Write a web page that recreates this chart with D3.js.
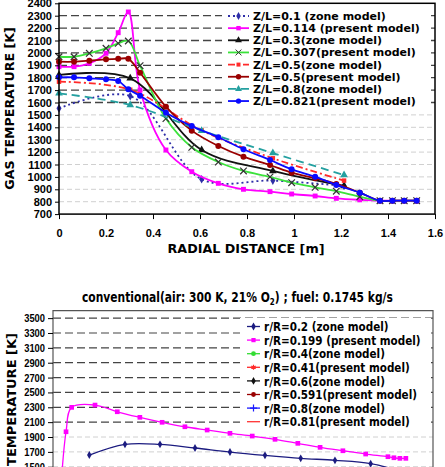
<!DOCTYPE html>
<html>
<head>
<meta charset="utf-8">
<script src="https://cdn.jsdelivr.net/npm/d3@7"></script>
<style>
  body { margin: 0; background: #fff; }
  svg { display: block; font-family: "DejaVu Sans", sans-serif; }
</style>
</head>
<body>
<div class="chart"></div>
<script>
// ---- top chart: radial gas temperature profiles ----
const zoneR = [0, 0.303, 0.607, 0.91, 1.213];
const presentR = [0, 0.064, 0.129, 0.2, 0.252, 0.295, 0.345, 0.455, 0.565, 0.678,
  0.785, 0.898, 0.99, 1.09, 1.18, 1.28, 1.366, 1.419, 1.469, 1.522];

const zl01Zone = [1553, 1652, 981, 970, 928];
const zl03Zone = [1822, 1795, 1217, 1048, 927];
const zl05Zone = [1768, 1703, 1375, 1150, 970];
const zl08Zone = [1674, 1580, 1373, 1192, 1015];

const zl0114Present = [1889, 1889, 1916, 1997, 2163, 2330, 1701, 1217, 1042, 948,
  900, 881, 862, 846, 827, 815, 808, 808, 808, 808];
const zl0307Present = [1969, 1969, 1997, 2037, 2077, 2096, 1897, 1470, 1239, 1120,
  1048, 1000, 953, 916, 885, 840, 808, 808, 808, 808];
const zl05Present = [1929, 1929, 1937, 1948, 1952, 1952, 1840, 1566, 1373, 1249,
  1163, 1096, 1034, 989, 943, 873, 808, 808, 808, 808];
const zl0821Present = [1803, 1803, 1795, 1787, 1773, 1706, 1655, 1518, 1410, 1320,
  1223, 1136, 1061, 1002, 935, 873, 808, 808, 808, 808];

const topXTicks = [0, 0.2, 0.4, 0.6, 0.8, 1, 1.2, 1.4, 1.6];
const topYTicks = d3.range(700, 2401, 100);

// ---- bottom chart: axial profiles (only the upper part is in view) ----
const axial0199 = [0.14, 0.24, 0.344, 0.774, 1.184, 1.6, 2.01, 2.43, 2.84, 3.26,
  3.67, 4.09, 4.51, 4.92, 5.34, 5.76, 6.17, 6.28, 6.39, 6.5];
const rR0199Present = [1150, 1971, 2299, 2330, 2240, 2165, 2098, 2038, 1994, 1950,
  1913, 1869, 1815, 1761, 1715, 1671, 1635, 1621, 1613, 1613];
const axial02 = [0.669, 1.326, 1.971, 2.616, 3.26, 3.905, 4.563, 5.194, 5.852, 6.5];
const rR02Zone = [1657, 1801, 1801, 1752, 1698, 1653, 1613, 1586, 1541, 1420];

const bottomLegend = ["r/R=0.2 (zone model)", "r/R=0.199 (present model)", "r/R=0.4(zone model)",
  "r/R=0.41(present model)", "r/R=0.6(zone model)", "r/R=0.591(present model)",
  "r/R=0.8(zone model)", "r/R=0.81(present model)"];
const bottomYTicks = d3.range(300, 3501, 200);

const width = 445;
const height = 467;

const svg = d3.select(".chart")
  .append("svg")
  .attr("width", width)
  .attr("height", height);

const sym = (t) => t || d3.symbolCross;

// squeeze a text horizontally, like the narrow font of the original
function squeeze(text, k) {
  text.each(function() {
    const w = this.getComputedTextLength();
    d3.select(this).attr("textLength", w * k).attr("lengthAdjust", "spacingAndGlyphs");
  });
}

// ================= top chart =================
const xTop = d3.scaleLinear().domain([0, 1.6]).range([59, 435]);
const yTop = d3.scaleLinear().domain([700, 2400]).range([214.1, 3.3]);

const topSeries = [
  {name: "Z/L=0.1 (zone model)", x: zoneR, y: zl01Zone, color: "#2e2ea8", dash: "2,3", symbol: d3.symbolDiamond, size: 22},
  {name: "Z/L=0.114 (present model)", x: presentR, y: zl0114Present, color: "#ff00ff", symbol: d3.symbolSquare, size: 24},
  {name: "Z/L=0.3(zone model)", x: zoneR, y: zl03Zone, color: "#111", symbol: d3.symbolTriangle, size: 26},
  {name: "Z/L=0.307(present model)", x: presentR, y: zl0307Present, color: "#3be23b", symbol: sym(d3.symbolTimes), size: 30, markStroke: "#333"},
  {name: "Z/L=0.5(zone model)", x: zoneR, y: zl05Zone, color: "#ff2a2a", dash: "7,3,2,3", symbol: d3.symbolSquare, size: 20},
  {name: "Z/L=0.5(present model)", x: presentR, y: zl05Present, color: "#990000", symbol: d3.symbolCircle, size: 28},
  {name: "Z/L=0.8(zone model)", x: zoneR, y: zl08Zone, color: "#24a0a0", dash: "8,5", symbol: d3.symbolTriangle, size: 26},
  {name: "Z/L=0.821(present model)", x: presentR, y: zl0821Present, color: "#0a0aff", symbol: d3.symbolCircle, size: 28}
];

// gridlines: dark ones up top, pale ones lower down
const topGrid = svg.append("g");
topGrid.selectAll("line")
  .data(topYTicks.filter(v => v > 700 && v < 2400))
  .join("line")
  .attr("x1", xTop(0)).attr("x2", xTop(1.6))
  .attr("y1", d => yTop(d)).attr("y2", d => yTop(d))
  .attr("stroke", d => d >= 1600 ? "#444" : "#d0d0d0")
  .attr("stroke-width", d => d >= 1600 ? 1.3 : 1)
  .attr("stroke-dasharray", d => d >= 1600 ? "8,4" : "5,3");

function drawSeries(g, s, xs, ys, lw) {
  const pts = s.x.map((v, i) => [v, s.y[i]]);
  const line = d3.line()
    .x(d => xs(d[0])).y(d => ys(d[1]))
    .curve(d3.curveCatmullRom.alpha(0.5));
  g.append("path")
    .datum(pts)
    .attr("d", line)
    .attr("fill", "none")
    .attr("stroke", s.color)
    .attr("stroke-width", lw)
    .attr("stroke-dasharray", s.dash || null);
  g.selectAll(null)
    .data(pts)
    .join("path")
    .attr("transform", d => `translate(${xs(d[0])},${ys(d[1])})`)
    .attr("d", d3.symbol().type(s.symbol).size(s.size))
    .attr("fill", s.markStroke ? "none" : s.color)
    .attr("stroke", s.markStroke || "none")
    .attr("stroke-width", 1.2);
}

const topPlot = svg.append("g");
topSeries.forEach(s => drawSeries(topPlot.append("g"), s, xTop, yTop, 1.8));

// frame + axes
svg.append("rect")
  .attr("x", xTop(0)).attr("y", yTop(2400))
  .attr("width", xTop(1.6) - xTop(0)).attr("height", yTop(700) - yTop(2400))
  .attr("fill", "none").attr("stroke", "#000").attr("stroke-width", 1.5);

svg.append("g")
  .attr("transform", `translate(${xTop(0)},0)`)
  .call(d3.axisLeft(yTop).tickValues(topYTicks).tickSize(4).tickPadding(3).tickFormat(d3.format("d")))
  .call(g => g.select(".domain").remove())
  .selectAll("text")
  .attr("font-size", 11).attr("font-weight", "bold").attr("fill", "#000");

svg.append("g")
  .attr("transform", `translate(0,${yTop(700)})`)
  .call(d3.axisBottom(xTop).tickValues(topXTicks).tickSize(5).tickPadding(10).tickFormat(d3.format("~g")))
  .call(g => g.select(".domain").remove())
  .selectAll("text")
  .attr("font-size", 11).attr("font-weight", "bold").attr("fill", "#000");

svg.append("text")
  .attr("transform", `translate(14,108.5) rotate(-90)`)
  .attr("text-anchor", "middle")
  .attr("font-size", 12.6).attr("font-weight", "bold")
  .text("GAS TEMPERATURE [K]");

svg.append("text")
  .attr("x", 246).attr("y", 252.5)
  .attr("text-anchor", "middle")
  .attr("font-size", 12.7).attr("font-weight", "bold")
  .text("RADIAL DISTANCE [m]");

// legend (white box hides the grid behind it)
const topLeg = svg.append("g");
topLeg.append("rect")
  .attr("x", 222).attr("y", 7).attr("width", 209).attr("height", 101)
  .attr("fill", "#fff");
topSeries.forEach((s, i) => {
  const y = 16 + i * 12.15;
  const row = topLeg.append("g");
  row.append("line")
    .attr("x1", 228).attr("x2", 249).attr("y1", y).attr("y2", y)
    .attr("stroke", s.color).attr("stroke-width", 1.8)
    .attr("stroke-dasharray", s.dash || null);
  row.append("path")
    .attr("transform", `translate(238.5,${y})`)
    .attr("d", d3.symbol().type(s.symbol).size(s.size * 0.8))
    .attr("fill", s.markStroke ? "none" : s.color)
    .attr("stroke", s.markStroke || "none");
  row.append("text")
    .attr("x", 253).attr("y", y).attr("dy", "0.36em")
    .attr("font-size", 11).attr("font-weight", "bold")
    .text(s.name);
});

// ================= bottom chart =================
const xBot = d3.scaleLinear().domain([0, 7]).range([53, 433]);
const yBot = d3.scaleLinear().domain([300, 3600]).range([555.9, 310.7]);

svg.append("g")
  .selectAll("line")
  .data(bottomYTicks.filter(v => v >= 500))
  .join("line")
  .attr("x1", xBot(0)).attr("x2", xBot(7))
  .attr("y1", d => yBot(d)).attr("y2", d => yBot(d))
  .attr("stroke", d => d >= 2100 ? "#444" : "#d0d0d0")
  .attr("stroke-width", d => d >= 2100 ? 1.2 : 1)
  .attr("stroke-dasharray", d => d >= 2100 ? "8,4" : "5,3");

const botSeries = [
  {x: axial02, y: rR02Zone, color: "#1c1c80", symbol: d3.symbolDiamond, size: 18},
  {x: axial0199, y: rR0199Present, color: "#ff00ff", symbol: d3.symbolSquare, size: 22}
];
const botPlot = svg.append("g");
botSeries.forEach(s => drawSeries(botPlot.append("g"), s, xBot, yBot, 1.3));

svg.append("path")
  .attr("d", `M${xBot(0)},${height + 5}V${yBot(3600)}H${xBot(7)}V${height + 5}`)
  .attr("fill", "none").attr("stroke", "#555").attr("stroke-width", 1.2);

svg.append("g")
  .attr("transform", `translate(${xBot(0)},0)`)
  .call(d3.axisLeft(yBot).tickValues(bottomYTicks).tickSize(5).tickPadding(3).tickFormat(d3.format("d")))
  .call(g => g.select(".domain").remove())
  .selectAll("text")
  .attr("font-size", 11).attr("font-weight", "bold").attr("fill", "#000")
  .call(squeeze, 0.85);

svg.append("text")
  .attr("transform", `translate(16,333) rotate(-90)`)
  .attr("text-anchor", "end")
  .attr("font-size", 13).attr("font-weight", "bold")
  .text("GAS TEMPERATURE [K]");

// title: narrow it with a horizontal scale so the subscript stays in line
const title = svg.append("text")
  .attr("font-size", 13.5).attr("font-weight", "bold");
title.append("tspan").text("conventional(air: 300 K, 21% O");
title.append("tspan").attr("font-size", 9).attr("dy", 3).text("2");
title.append("tspan").attr("dy", -3).text(") ; fuel: 0.1745 kg/s");
const titleW = title.node().getComputedTextLength();
title.attr("transform", `translate(82,301.5) scale(${311 / titleW},1)`);

// bottom legend
const botLegStyles = [
  {color: "#1c1c80", symbol: d3.symbolDiamond},
  {color: "#ff00ff", symbol: d3.symbolSquare},
  {color: "#33dd33", symbol: d3.symbolCircle},
  {color: "#ff2a2a", symbol: d3.symbolAsterisk || d3.symbolStar, stroke: true},
  {color: "#111", symbol: d3.symbolDiamond},
  {color: "#990000", symbol: d3.symbolCircle},
  {color: "#1a1aff", symbol: d3.symbolPlus || d3.symbolCross, stroke: true},
  {color: "#ff3333", symbol: null}
];
const botLeg = svg.append("g");
botLeg.append("rect")
  .attr("x", 240).attr("y", 318).attr("width", 191).attr("height", 111)
  .attr("fill", "#fff");
bottomLegend.forEach((name, i) => {
  const y = 326.5 + i * 13.6;
  const st = botLegStyles[i];
  botLeg.append("line")
    .attr("x1", 247).attr("x2", 260).attr("y1", y).attr("y2", y)
    .attr("stroke", st.color).attr("stroke-width", 1.3);
  if (st.symbol) {
    botLeg.append("path")
      .attr("transform", `translate(253.5,${y})`)
      .attr("d", d3.symbol().type(st.symbol).size(18))
      .attr("fill", st.stroke ? "none" : st.color)
      .attr("stroke", st.stroke ? st.color : "none")
      .attr("stroke-width", 1.2);
  }
  botLeg.append("text")
    .attr("x", 264).attr("y", y).attr("dy", "0.36em")
    .attr("font-size", 13).attr("font-weight", "bold")
    .text(name)
    .call(squeeze, 0.8);
});
</script>
</body>
</html>
